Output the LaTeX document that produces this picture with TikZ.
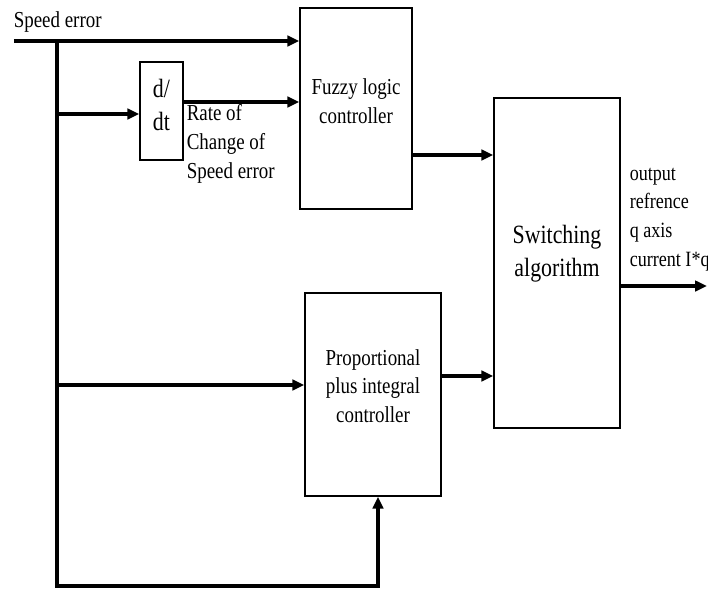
\documentclass[tikz,border=0pt]{standalone}
\usepackage{fontspec}
\setmainfont{Liberation Serif}[FakeStretch=0.83]
\usetikzlibrary{arrows.meta}

\begin{document}
\begin{tikzpicture}[x=0.02cm,y=-0.02cm,line width=2pt,
    >={Triangle[length=2.4mm,width=2.1mm]},
    blk/.style={draw,line width=0.8pt,inner sep=0pt},
    lbl/.style={align=left,inner sep=0pt,font=\fontsize{13}{16.4}\selectfont}]
  \useasboundingbox (0,0) rectangle (708,589);
  % blocks
  \node[blk,minimum width=0.86cm,minimum height=1.96cm] (ddt) at (161.5,111) {};
  \node[blk,minimum width=2.24cm,minimum height=4.02cm] (flc) at (356,108.5) {};
  \node[blk,minimum width=2.52cm,minimum height=6.6cm] (sw) at (557,263) {};
  \node[blk,minimum width=2.72cm,minimum height=4.06cm] (pi) at (373,394.5) {};
  % block texts
  \node[lbl,align=center,font=\fontsize{15}{19.3}\selectfont] (ddttext) at (161.5,105) {d/\\dt};
  \node[lbl,align=center] (flctext) at (356,101) {Fuzzy logic\\controller};
  \node[lbl,align=center,font=\fontsize{15}{18.7}\selectfont] (swtext) at (557,253.5) {Switching\\algorithm};
  \node[lbl,align=center] (pitext) at (373,386) {Proportional\\plus integral\\controller};
  % signal texts
  \node[lbl,anchor=base west] (err) at (12,27) {Speed error};
  \node[lbl,anchor=north west] (rate) at (185,103) {Rate of\\Change of\\Speed error};
  \node[lbl,anchor=north west,font=\fontsize{12.4}{16.4}\selectfont] (iq) at (628,166) {output\\refrence\\q axis\\current I*q};
  % points
  \coordinate (in) at (14,41);
  \coordinate (split) at (57,41);
  \coordinate (din) at (57,114);
  \coordinate (dout) at (183,102);
  \coordinate (fo) at (412,155);
  \coordinate (pin) at (57,385);
  \coordinate (po) at (441,376);
  \coordinate (bot) at (378,586);
  \coordinate (so) at (620,286);
  \coordinate (out) at (707,286);
  % connections
  \draw[->] (in) -- (in -| flc.west);
  \draw[->] (split) |- (bot) -- (bot |- pi.south);
  \draw[->] (din) -- (din -| ddt.west);
  \draw[->] (dout) -- (dout -| flc.west);
  \draw[->] (pin) -- (pin -| pi.west);
  \draw[->] (fo) -- (fo -| sw.west);
  \draw[->] (po) -- (po -| sw.west);
  \draw[->] (so) -- (out);
\end{tikzpicture}
\end{document}
